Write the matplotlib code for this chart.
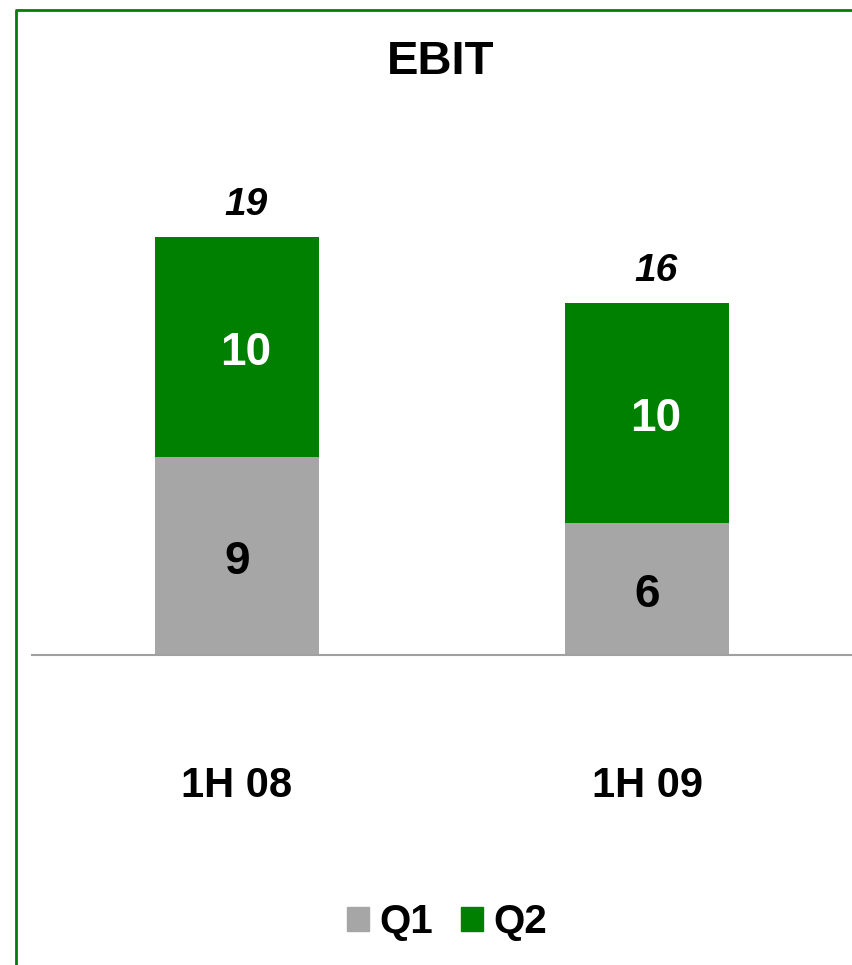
import matplotlib.pyplot as plt
from matplotlib.lines import Line2D
from matplotlib.patches import Patch

plt.rcParams['font.family'] = ['Liberation Sans', 'DejaVu Sans']

categories = ['1H 08', '1H 09']
q1 = [9, 6]
q2 = [10, 10]
totals = ['19', '16']
series_names = ['Q1', 'Q2']
colors = ['#A6A6A6', '#008000']

W, H = 852, 965
fig = plt.figure(figsize=(W / 100, H / 100), dpi=100)

# axes placed in pixel terms: baseline at y=655, 22 px per unit
ax = fig.add_axes([32 / W, (H - 655) / H, 820 / W, 550 / H])
x = range(len(categories))
ax.bar(x, q1, width=0.4, color=colors[0], zorder=2)
ax.bar(x, q2, width=0.4, bottom=q1, color=colors[1], zorder=2)
ax.set_xlim(-0.5, 1.5)
ax.set_ylim(0, 25)

for i in x:
    ax.text(i, q1[i] / 2 - 0.27, str(q1[i]), ha='center', va='center',
            fontsize=33, fontweight='bold', color='black')
    ax.text(i + 0.02, q1[i] + q2[i] / 2 - 0.27, str(q2[i]), ha='center', va='center',
            fontsize=33, fontweight='bold', color='white')
    ax.text(i + 0.022, q1[i] + q2[i] + 1.45, totals[i], ha='center', va='center',
            fontsize=28, fontweight='bold', style='italic', color='black')

ax.set_xticks(list(x))
ax.set_xticklabels(categories, fontsize=30, fontweight='bold')
ax.tick_params(axis='x', length=0, pad=80)
ax.set_yticks([])
for s in ['top', 'right', 'left']:
    ax.spines[s].set_visible(False)
ax.spines['bottom'].set_color('#A0A0A0')
ax.spines['bottom'].set_linewidth(1.5)

fig.text(441 / W, 1 - 62 / H, 'EBIT', ha='center', va='center',
         fontsize=34, fontweight='bold')

handles = [Patch(color=c) for c in colors]
fig.legend(handles, series_names, loc='center', bbox_to_anchor=(447 / W, 1 - 922 / H),
           ncol=2, frameon=False, prop={'weight': 'bold', 'size': 29},
           handlelength=0.55, handleheight=0.55, handletextpad=0.25, columnspacing=0.7)

# green frame on left and top
fig.add_artist(Line2D([16 / W, 16 / W, 1], [0, 1 - 10 / H, 1 - 10 / H],
                      transform=fig.transFigure, color='#008000', lw=2))

fig.savefig('out.png', dpi=100)
